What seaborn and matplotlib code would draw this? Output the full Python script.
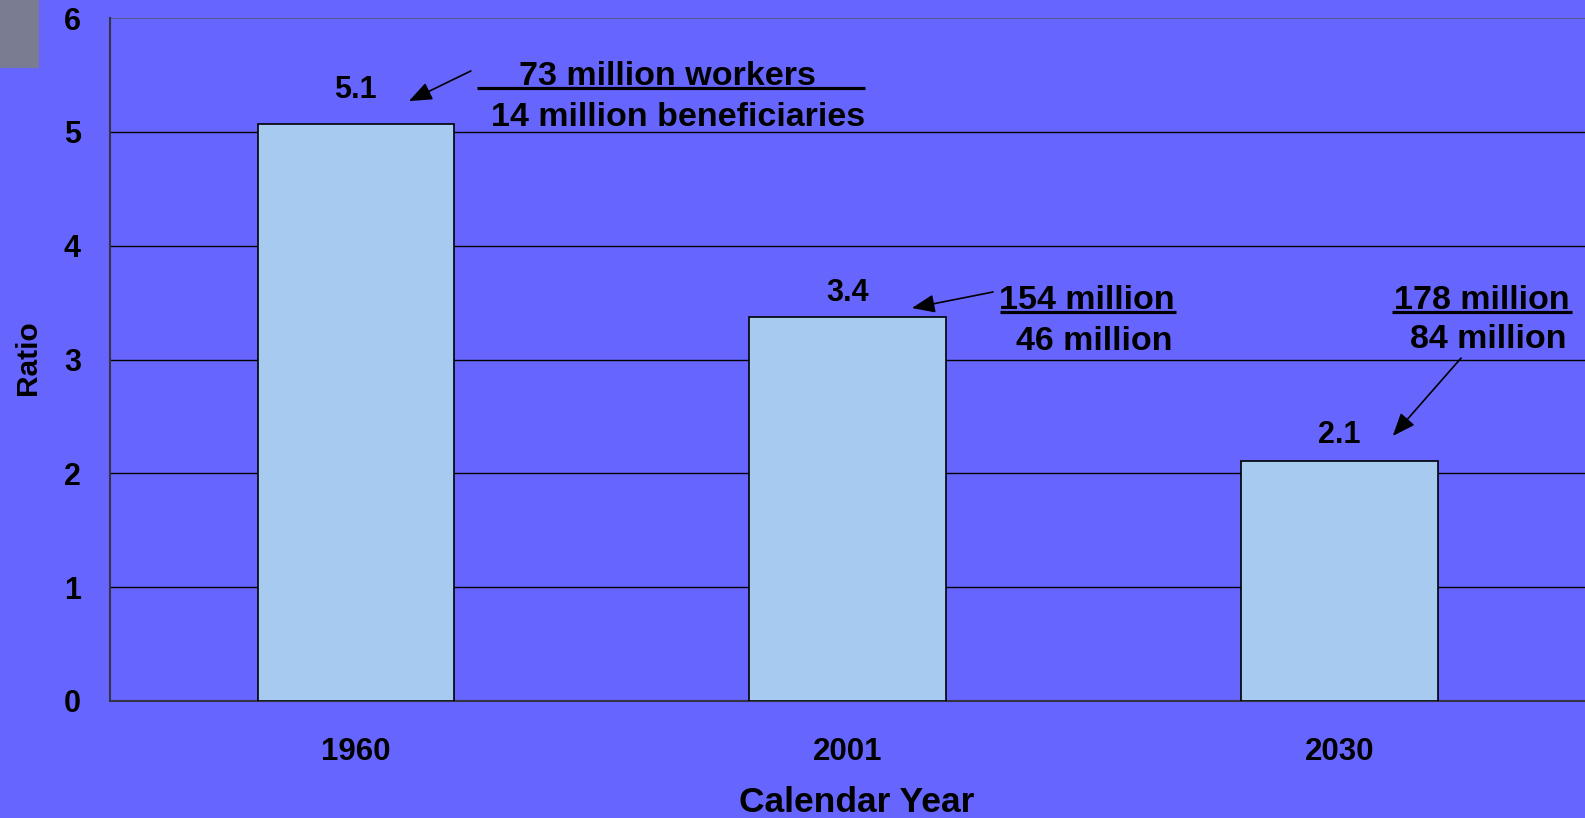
import matplotlib
matplotlib.use("Agg")
import matplotlib.pyplot as plt
import seaborn as sns
import pandas as pd
from matplotlib.patches import Rectangle

# Workers per beneficiary
years = ["1960", "2001", "2030"]
ratios = [5.07, 3.37, 2.11]
workers = ["73 million workers", "154 million", "178 million"]
beneficiaries = ["14 million beneficiaries", "46 million", "84 million"]
y_ticks = [0, 1, 2, 3, 4, 5, 6]

BG = "#6666FF"
BAR = "#A6CAF0"

sns.set_theme(style="white")
plt.rcParams["font.family"] = ["Liberation Sans", "DejaVu Sans"]
plt.rcParams["font.weight"] = "bold"
for key in ["text.color", "axes.labelcolor", "xtick.labelcolor", "ytick.labelcolor"]:
    plt.rcParams[key] = "black"

df = pd.DataFrame({"year": years, "ratio": ratios})

W, H = 1585, 818
fig = plt.figure(figsize=(W / 100, H / 100), dpi=100, facecolor=BG)
ax = fig.add_axes([110 / W, 1 - 701 / H, 1 - 110 / W, (701 - 18) / H])
ax.set_facecolor(BG)

sns.barplot(data=df, x="year", y="ratio", color=BAR, width=0.4,
            edgecolor="black", linewidth=1.2, saturation=1, ax=ax, zorder=3)

ax.set_xlim(-0.5, 2.5)
ax.set_ylim(0, 6)
ax.set_yticks(y_ticks)
ax.set_yticklabels([str(t) for t in y_ticks], fontsize=22, fontweight="bold")
for t in y_ticks[1:-1]:
    ax.axhline(t, color="black", lw=1.0, zorder=1)
ax.axhline(6, color="#555577", lw=1.2, zorder=1)

ax.tick_params(axis="y", direction="out", length=11, width=1.2, color="#333344", pad=10)
ax.tick_params(axis="x", which="major", length=0, pad=26, labelsize=22.5)
ax.set_xticks([-0.5, 0.5, 1.5], minor=True)
ax.tick_params(axis="x", which="minor", direction="out", length=11, width=1.2, color="#333344")
for lab in ax.get_xticklabels():
    lab.set_fontweight("bold")

for s in ["top", "right"]:
    ax.spines[s].set_visible(False)
for s in ["left", "bottom"]:
    ax.spines[s].set_color("#333344")
    ax.spines[s].set_linewidth(1.5)

ax.set_xlabel("Calendar Year", fontsize=25.5, fontweight="bold")
ax.xaxis.set_label_coords((857 - 110) / 1475, (701 - 812) / 683)
ax.xaxis.label.set_va("baseline")
ax.set_ylabel("Ratio", fontsize=21.5, fontweight="bold")
ax.yaxis.set_label_coords((28 - 110) / 1475, (701 - 358) / 683)
ax.yaxis.label.set_va("center")

# Value labels above bars
offsets = [34, 24, 26]
for i, (v, off) in enumerate(zip(ratios, offsets)):
    ax.annotate(f"{v:.1f}", (i, v), xytext=(0, off), textcoords="offset pixels",
                ha="center", va="center", fontsize=22, fontweight="bold")

arrow = dict(arrowstyle="-|>,head_length=1.0,head_width=0.4", color="black", lw=1.2,
             shrinkA=0, shrinkB=0, mutation_scale=14)
FS = 24.5

# 1960 annotation
ax.annotate("", xy=(0.108, 5.27), xytext=(0.234, 5.535), arrowprops=arrow)
ax.text(0.633, 5.49, workers[0], ha="center", va="center", fontsize=FS, fontweight="bold")
ax.plot([0.246, 1.036], [5.385, 5.385], color="black", lw=2.3, solid_capstyle="butt")
ax.text(0.655, 5.125, beneficiaries[0], ha="center", va="center", fontsize=FS, fontweight="bold")

# 2001 annotation
ax.annotate("", xy=(1.131, 3.452), xytext=(1.296, 3.593), arrowprops=arrow)
ax.text(1.666, 3.515, workers[1], ha="right", va="center", fontsize=FS, fontweight="bold")
ax.plot([1.31, 1.668], [3.417, 3.417], color="black", lw=2.3, solid_capstyle="butt")
ax.text(1.662, 3.16, beneficiaries[1], ha="right", va="center", fontsize=FS, fontweight="bold")

# 2030 annotation
ax.annotate("", xy=(2.109, 2.328), xytext=(2.248, 3.013), arrowprops=arrow)
ax.text(2.469, 3.52, workers[2], ha="right", va="center", fontsize=FS, fontweight="bold")
ax.plot([2.107, 2.474], [3.417, 3.417], color="black", lw=2.3, solid_capstyle="butt")
ax.text(2.462, 3.18, beneficiaries[2], ha="right", va="center", fontsize=FS, fontweight="bold")

# Grey corner block
fig.patches.append(Rectangle((0, 1 - 68 / H), 39 / W, 68 / H,
                             transform=fig.transFigure, facecolor="#7A7D92",
                             edgecolor="none", zorder=0))

fig.savefig("out.png", dpi=100, facecolor=BG)
